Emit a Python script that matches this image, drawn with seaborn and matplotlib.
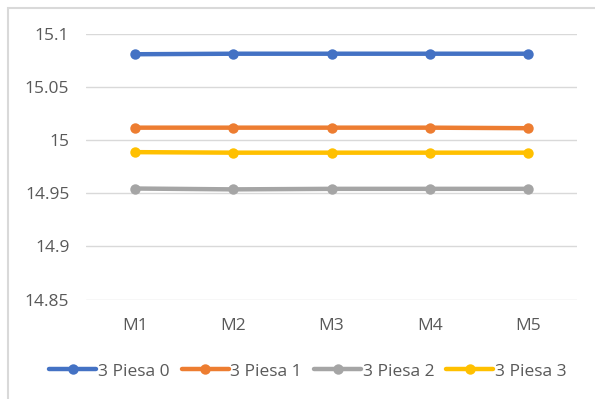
import matplotlib
matplotlib.use("Agg")
import matplotlib.pyplot as plt
import seaborn as sns
import pandas as pd
from matplotlib.patches import Rectangle

# Measurements per sample point
categories = ["M1", "M2", "M3", "M4", "M5"]
series_names = ["3 Piesa 0", "3 Piesa 1", "3 Piesa 2", "3 Piesa 3"]
piesa0 = [15.0805, 15.081, 15.081, 15.081, 15.081]
piesa1 = [15.0115, 15.0115, 15.0115, 15.0115, 15.011]
piesa2 = [14.9543, 14.9535, 14.954, 14.954, 14.954]
piesa3 = [14.9885, 14.988, 14.988, 14.988, 14.988]
y_ticks = [14.85, 14.9, 14.95, 15.0, 15.05, 15.1]
y_tick_labels = ["14.85", "14.9", "14.95", "15", "15.05", "15.1"]
colors = ["#4472C4", "#ED7D31", "#A5A5A5", "#FFC000"]

rows = []
for name, vals in zip(series_names, [piesa0, piesa1, piesa2, piesa3]):
    for cat, v in zip(categories, vals):
        rows.append({"Muestra": cat, "Valor": v, "Serie": name})
df = pd.DataFrame(rows)

sns.set_theme(style="white")
plt.rcParams["font.family"] = ["Open Sans", "DejaVu Sans"]

fig = plt.figure(figsize=(5.95, 3.99), dpi=100)
ax = fig.add_axes([86 / 595, 1 - 299.5 / 399, (577 - 86) / 595, (299.5 - 33.5) / 399])

sns.lineplot(
    data=df, x="Muestra", y="Valor", hue="Serie", palette=colors,
    marker="o", markersize=7.5, markeredgewidth=0, linewidth=3.2,
    ax=ax, legend=False, sort=False,
)

ax.set_xlim(-0.5, 4.5)
ax.set_ylim(14.85, 15.1)
ax.set_yticks(y_ticks)
ax.set_yticklabels(y_tick_labels)
ax.set_xlabel("")
ax.set_ylabel("")
ax.yaxis.grid(True, color="#D9D9D9", linewidth=1.0)
ax.xaxis.grid(False)
ax.set_axisbelow(True)
for s in ax.spines.values():
    s.set_visible(False)
ax.tick_params(axis="both", length=0, labelsize=12.5, labelcolor="#595959")
ax.tick_params(axis="x", pad=13)
ax.tick_params(axis="y", pad=12)

# Legend along the bottom
handles = [
    plt.Line2D([0], [0], color=c, linewidth=3.2, marker="o", markersize=7.5,
               markeredgewidth=0)
    for c in colors
]
fig.legend(
    handles, series_names, loc="center", bbox_to_anchor=(308 / 595, 1 - 371.5 / 399),
    ncol=4, frameon=False, fontsize=12.5, labelcolor="#595959",
    handlelength=2.7, handletextpad=0.1, columnspacing=0.7,
)

# Chart border (left and top edges visible)
fig.patches.append(Rectangle((7.5 / 595, -0.1), 1.2, 1.1 - 8.5 / 399,
                             transform=fig.transFigure, fill=False,
                             edgecolor="#D9D9D9", linewidth=1.5))

fig.savefig("out.png", dpi=100)
